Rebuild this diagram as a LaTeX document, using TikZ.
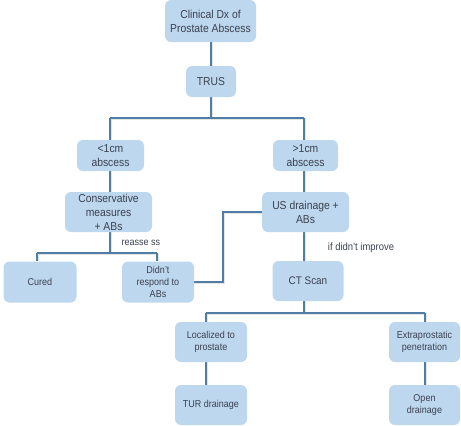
\documentclass[tikz,border=0pt]{standalone}
\usepackage{fontspec}
\setmainfont{Liberation Sans}[FakeStretch=0.9]
\usetikzlibrary{backgrounds}
\definecolor{boxfill}{HTML}{BDD7EE}
\definecolor{linec}{HTML}{4F7DA6}
\definecolor{txt}{HTML}{3B4150}
\tikzset{
  box/.style={draw=none, fill=boxfill, rounded corners=6pt, align=center, text=txt, inner sep=1pt},
  big/.style={font=\fontsize{11.5}{14}\selectfont},
  small/.style={font=\fontsize{10}{12}\selectfont},
  conn/.style={draw=linec, line width=1.5pt},
  shad/.style={draw=black!10, line width=3pt},
  lbl/.style={text=txt, font=\fontsize{10}{12}\selectfont, inner sep=0pt}
}
\begin{document}
\begin{tikzpicture}[x=1pt,y=-1pt]
\useasboundingbox (0,0) rectangle (461,426);
% junction coordinates
\coordinate (j1) at (211,118);
\coordinate (j2) at (110,253);
\coordinate (j3) at (304,313);
\coordinate (k) at (223,247);
\coordinate (c1) at (37,253);
\coordinate (c2) at (157,253);
\coordinate (l1) at (110,118);
\coordinate (r1) at (304,118);
\coordinate (p1) at (206,313);
\coordinate (p2) at (425,313);

\node[box,big,minimum width=91pt,minimum height=42pt] (dx) at (210.5,21) {Clinical Dx of\\Prostate Abscess};
\node[box,big,minimum width=50pt,minimum height=31pt] (trus) at (211,81.5) {TRUS};
\node[box,big,minimum width=67pt,minimum height=31pt] (lt) at (110.5,155.5) {<1cm\\abscess};
\node[box,big,minimum width=65pt,minimum height=31pt] (gt) at (305.5,155.5) {>1cm\\abscess};
\node[box,big,minimum width=87pt,minimum height=40pt] (cons) at (108.5,212) {Conservative\\measures\\+ ABs};
\node[box,big,minimum width=87pt,minimum height=40pt] (us) at (305.5,212) {US drainage +\\ABs};
\node[box,small,minimum width=73pt,minimum height=41pt] (cured) at (40,282) {Cured};
\node[box,small,minimum width=72pt,minimum height=41pt] (didnt) at (158,282) {Didn’t\\respond to\\ABs};
\node[box,big,font=\fontsize{11}{13}\selectfont,minimum width=71pt,minimum height=40pt] (ct) at (308,281) {CT Scan};
\node[box,small,minimum width=72pt,minimum height=40pt] (loc) at (211,342) {Localized to\\prostate};
\node[box,small,minimum width=71pt,minimum height=40pt] (ext) at (424.5,342) {Extraprostatic\\penetration};
\node[box,small,minimum width=72pt,minimum height=40pt] (tur) at (211,405) {TUR drainage};
\node[box,small,minimum width=71pt,minimum height=40pt] (open) at (424.5,405) {Open\\drainage};

\node[lbl] (reas) at (141,243) {reasse ss};
\node[lbl,font=\fontsize{10.5}{12}\selectfont] (imp) at (361,248) {if didn’t improve};

\begin{scope}[on background layer]
  \foreach \s/\dx/\dy in {shad/2/1, conn/0/0}{
  \begin{scope}[xshift=\dx pt, yshift=\dy pt, every path/.style={\s}]
  \draw (dx.south -| trus.north) -- (trus.north);
  \draw (trus.south) -- (j1);
  \draw (l1) -- (r1);
  \draw (l1) -- (l1 |- lt.north);
  \draw (r1) -- (r1 |- gt.north);
  \draw (l1 |- lt.south) -- (l1 |- cons.north);
  \draw (r1 |- gt.south) -- (r1 |- us.north);
  \draw (l1 |- cons.south) -- (j2);
  \draw (c1) -- (c2);
  \draw (c1) -- (c1 |- cured.north);
  \draw (c2) -- (c2 |- didnt.north);
  \draw (didnt.east) -| (k) |- (us.west);
  \draw (r1 |- us.south) -- (r1 |- ct.north);
  \draw (r1 |- ct.south) -- (j3);
  \draw (p1) -- (p2);
  \draw (p1) -- (p1 |- loc.north);
  \draw (p2) -- (p2 |- ext.north);
  \draw (p1 |- loc.south) -- (p1 |- tur.north);
  \draw (p2 |- ext.south) -- (p2 |- open.north);
  \end{scope}}
\end{scope}
\end{tikzpicture}
\end{document}
